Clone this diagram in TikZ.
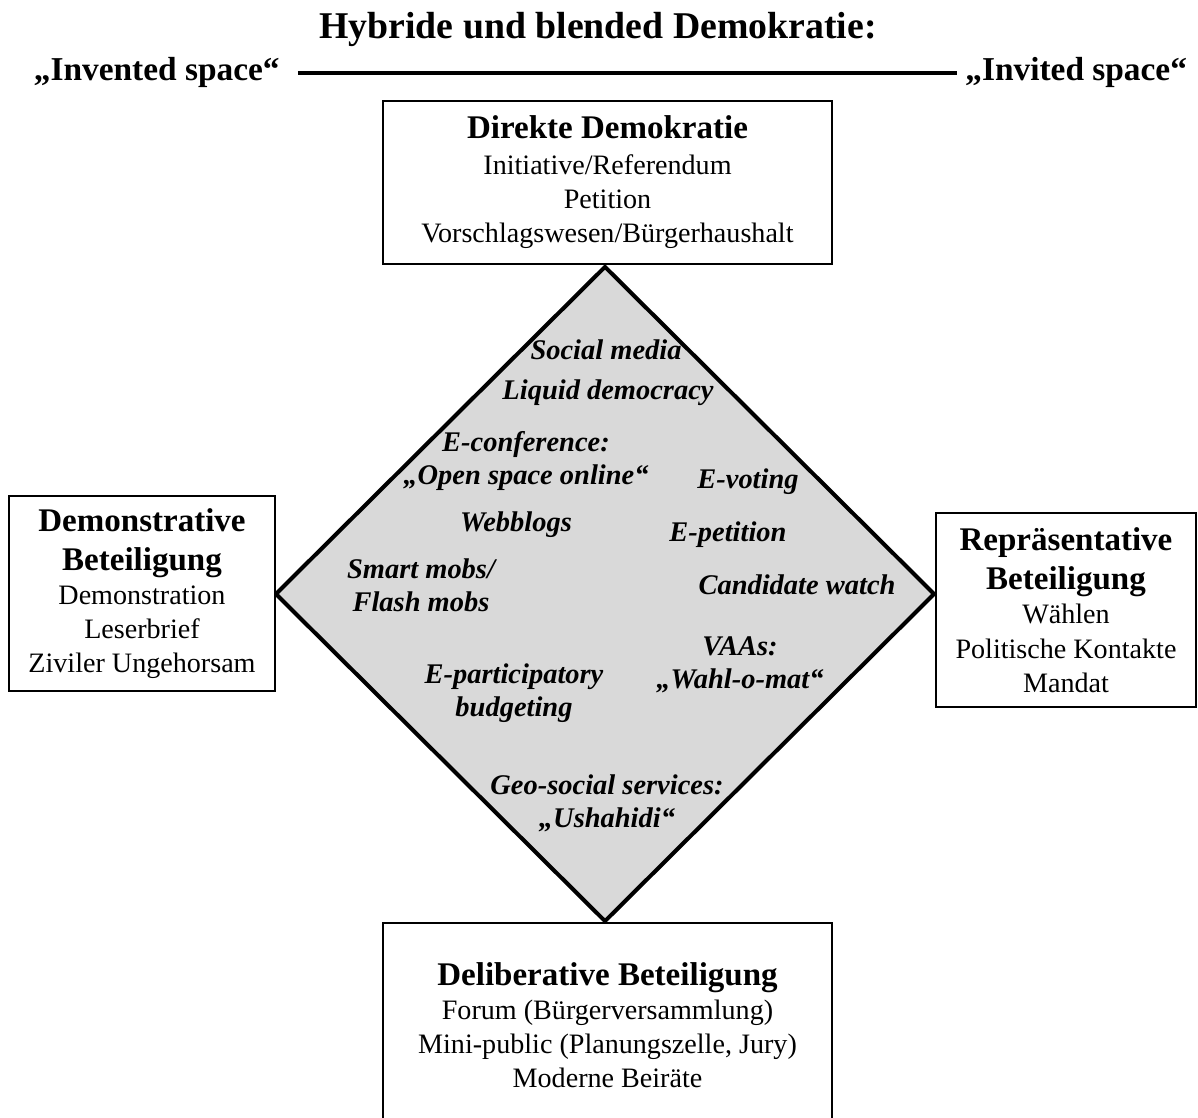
\documentclass[tikz,border=0pt]{standalone}
\usepackage{fontspec}
\setmainfont{Liberation Serif}
\usetikzlibrary{positioning,shapes.geometric}
\definecolor{diagray}{RGB}{217,217,217}
\newcommand{\hd}[1]{{\fontsize{18.8}{22}\selectfont\bfseries #1}}

\begin{document}
\begin{tikzpicture}[x=0.02cm, y=-0.02cm]
  \tikzset{
    box/.style={draw=black, line width=1.1pt, fill=white, align=center,
                inner sep=0pt, font=\fontsize{16}{19.4}\selectfont},
    dia/.style={diamond, draw=black, line width=2.3pt, fill=diagray,
                inner sep=0pt, minimum width=13.2cm, minimum height=13.12cm},
    lab/.style={align=center, font=\fontsize{16.2}{18.6}\selectfont\bfseries\itshape},
    ttl/.style={inner sep=0pt, font=\fontsize{19}{22}\selectfont\bfseries},
    spaceline/.style={line width=2.3pt}
  }
  \path[use as bounding box, clip] (0,0) rectangle (1198,1118);

  % Title and the space axis
  \node[ttl, anchor=base, font=\fontsize{21.5}{25}\selectfont\bfseries] (title) at (598,39)
    {Hybride und blended Demokratie:};
  \node[ttl, anchor=base east] (inv) at (280,81) {„Invented space“};
  \node[ttl, anchor=base west] (invd) at (965,81) {„Invited space“};
  \draw[spaceline, shorten <=0.36cm, shorten >=0.16cm] (inv.east |- 0,73) -- (invd.west |- 0,73);

  % Centre: the diamond
  \node[dia] (dmd) at (605,594) {};

  % The four forms of participation
  \node[box, minimum width=8.98cm, minimum height=3.26cm] (direkt) at (607.5,182.5)
    {\hd{Direkte Demokratie}\\[1pt]Initiative/Referendum\\Petition\\Vorschlagswesen/Bürgerhaushalt};
  \node[box, minimum width=5.32cm, minimum height=3.9cm] (demo) at (142,593.5)
    {\hd{Demonstrative}\\[3pt]\hd{Beteiligung}\\Demonstration\\Leserbrief\\Ziviler Ungehorsam};
  \node[box, minimum width=5.2cm, minimum height=3.88cm] (repr) at (1066,610)
    {\hd{Repräsentative}\\[3pt]\hd{Beteiligung}\\Wählen\\Politische Kontakte\\Mandat};
  \node[box, minimum width=8.98cm, minimum height=4.08cm] (delib) at (607.5,1025)
    {\hd{Deliberative Beteiligung}\\Forum (Bürgerversammlung)\\Mini-public (Planungszelle, Jury)\\Moderne Beiräte};

  % Online forms inside the diamond
  \node[lab] (social) at (606,350) {Social media};
  \node[lab] (liquid) at (608,393) {Liquid democracy};
  \node[lab] (econf)  at (526,461) {E-conference:\\„Open space online“};
  \node[lab] (blogs)  at (516,525) {Webblogs};
  \node[lab] (smart)  at (421,585) {Smart mobs/\\Flash mobs};
  \node[lab] (evote)  at (748,482) {E-voting};
  \node[lab] (epet)   at (728,535) {E-petition};
  \node[lab] (cand)   at (797,585) {Candidate watch};
  \node[lab] (vaa)    at (740,665) {VAAs:\\„Wahl-o-mat“};
  \node[lab] (ebudg)  at (514,693) {E-participatory\\budgeting};
  \node[lab] (geo)    at (607,803) {Geo-social services:\\„Ushahidi“};
\end{tikzpicture}
\end{document}
